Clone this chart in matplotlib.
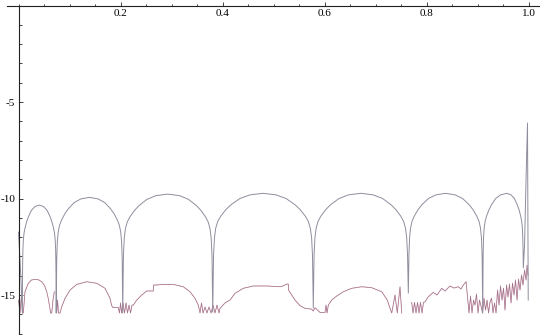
import matplotlib
matplotlib.use('Agg')
import matplotlib.pyplot as plt
from matplotlib.ticker import MultipleLocator

# smooth error curve (log10)
gray_x = [0.0, 0.0049, 0.0075,
          0.0080, 0.0086, 0.0095, 0.0108, 0.0128, 0.0161, 0.0195, 0.0254, 0.0321, 0.0407,
          0.0493, 0.0560, 0.0620, 0.0653, 0.0686, 0.0706, 0.0719, 0.0728, 0.0734, 0.0739,
          0.0749, 0.0761, 0.0778, 0.0804, 0.0843, 0.0909, 0.0974, 0.1091, 0.1222, 0.1391,
          0.1561, 0.1691, 0.1808, 0.1874, 0.1939, 0.1978, 0.2004, 0.2021, 0.2033, 0.2043,
          0.2057, 0.2073, 0.2096, 0.2131, 0.2184, 0.2273, 0.2361, 0.2520, 0.2696, 0.2926,
          0.3155, 0.3331, 0.3490, 0.3579, 0.3667, 0.3720, 0.3755, 0.3778, 0.3794, 0.3808,
          0.3824, 0.3842, 0.3867, 0.3907, 0.3966, 0.4064, 0.4163, 0.4340, 0.4538, 0.4794,
          0.5050, 0.5248, 0.5425, 0.5524, 0.5622, 0.5681, 0.5721, 0.5747, 0.5764, 0.5780,
          0.5795, 0.5812, 0.5836, 0.5873, 0.5929, 0.6022, 0.6115, 0.6283, 0.6469, 0.6712,
          0.6954, 0.7140, 0.7308, 0.7401, 0.7494, 0.7550, 0.7587, 0.7611, 0.7628, 0.7643,
          0.7655, 0.7668, 0.7687, 0.7716, 0.7760, 0.7833, 0.7906, 0.8037, 0.8183, 0.8373,
          0.8562, 0.8708, 0.8839, 0.8912, 0.8985, 0.9029, 0.9058, 0.9077, 0.9090, 0.9102,
          0.9110, 0.9118, 0.9130, 0.9149, 0.9177, 0.9225, 0.9272, 0.9356, 0.9451, 0.9573,
          0.9658, 0.9723, 0.9781, 0.9814, 0.9846, 0.9866, 0.9879, 0.9887, 0.9893, 0.9898,
          0.9922, 0.9951, 0.9980, 0.9994]
gray_y = [-11.74, -14.22, -15.93,
          -13.54, -12.64, -12.14, -11.79, -11.52, -11.19, -10.94, -10.61, -10.42, -10.34,
          -10.42, -10.61, -10.94, -11.19, -11.52, -11.79, -12.14, -12.64, -13.54, -15.93,
          -13.14, -12.24, -11.74, -11.39, -11.12, -10.79, -10.54, -10.21, -10.02, -9.94,
          -10.02, -10.21, -10.54, -10.79, -11.12, -11.39, -11.74, -12.24, -13.14, -15.93,
          -12.97, -12.07, -11.57, -11.22, -10.95, -10.62, -10.37, -10.04, -9.85, -9.77,
          -9.85, -10.04, -10.37, -10.62, -10.95, -11.22, -11.57, -12.07, -12.97, -15.88,
          -12.93, -12.03, -11.53, -11.18, -10.91, -10.58, -10.33, -10.00, -9.81, -9.73,
          -9.81, -10.00, -10.33, -10.58, -10.91, -11.18, -11.53, -12.03, -12.93, -15.67,
          -12.93, -12.03, -11.53, -11.18, -10.91, -10.58, -10.33, -10.00, -9.81, -9.73,
          -9.81, -10.00, -10.33, -10.58, -10.91, -11.18, -11.53, -12.03, -12.93, -14.90,
          -12.93, -12.03, -11.53, -11.18, -10.91, -10.58, -10.33, -10.00, -9.81, -9.73,
          -9.81, -10.00, -10.33, -10.58, -10.91, -11.18, -11.53, -12.03, -12.93, -15.93,
          -12.93, -12.03, -11.53, -11.18, -10.91, -10.58, -10.33, -10.00, -9.81, -9.73,
          -9.81, -10.00, -10.33, -10.58, -10.91, -11.18, -11.53, -12.03, -12.60, -13.60,
          -12.41, -9.04, -6.09, -15.26]

# rounding-level error curve, None marks a gap
red_x = [0.0, 0.0029, 0.0059, 0.0078, 0.0094, 0.0127, 0.0192, 0.0255, 0.0324, 0.0392,
         0.0455, 0.051, 0.0553, 0.0582, 0.0604, 0.0631, 0.0651, 0.0676, 0.0702, None,
         0.0749, 0.0765, 0.0784, 0.0814, 0.0847, 0.0912, 0.101, 0.1141, 0.1337, 0.1533,
         0.1696, 0.1794, 0.1827, 0.1853, 0.1957, 0.198, 0.2, 0.202, 0.2049, 0.2078,
         0.2108, 0.2137, 0.2167, 0.2196, 0.2225, 0.2251, 0.2318, 0.2416, 0.2514, 0.2643,
         0.2647, 0.271, 0.2839, 0.3035, 0.3231, 0.3363, 0.3461, 0.3525, 0.3559, 0.3588,
         0.3618, 0.3657, 0.3696, 0.3735, 0.3775, 0.3814, 0.3853, 0.3892, 0.3931, 0.3951,
         0.4049, 0.4147, 0.4245, 0.4408, 0.4604, 0.4867, 0.5127, 0.5206, 0.5259, 0.529,
         0.5294, 0.5357, 0.5422, 0.552, 0.5618, 0.5749, 0.578, 0.5814, 0.5912, 0.601,
         0.6029, 0.6049, 0.6075, 0.6141, 0.6239, 0.6369, 0.6533, 0.6729, 0.6925, 0.7122,
         0.7231, 0.7284, 0.7318, 0.7382, 0.7427, 0.748, 0.7514, None,
         0.771, 0.7735, 0.7765, 0.7794, 0.7824, 0.7853, 0.7882, 0.7912, 0.7941,
         0.7971, 0.8035, 0.8133, 0.8206, 0.8298, 0.8363, 0.8461, 0.8539, 0.8624, 0.8676,
         0.8722, 0.8775, 0.88, 0.8833, 0.8863, 0.8892, 0.8922, 0.8951, 0.898, 0.901,
         0.9039, 0.9069, 0.9098, 0.9127, 0.9157, 0.9186, 0.9216, 0.9245, 0.9275, 0.9304,
         0.9333, 0.9363, 0.9392, 0.9422, 0.9451, 0.948, 0.951, 0.9539, 0.9569, 0.9598,
         0.9627, 0.9657, 0.9686, 0.9716, 0.9745, 0.9775, 0.9804, 0.9833, 0.9863, 0.9892,
         0.9922, 0.9951, 0.9971, 0.999]
red_y = [-15.26, -15.93, -15.00, -15.93, -15.93, -14.83, -14.39, -14.22, -14.19, -14.21,
         -14.31, -14.51, -14.83, -15.16, -15.52, -15.93, -15.93, -15.26, -14.83, None,
         -15.93, -15.26, -15.93, -15.93, -15.61, -15.17, -14.74, -14.45, -14.31, -14.39,
         -14.65, -15.17, -15.55, -15.65, -15.65, -15.93, -15.41, -15.93, -15.41, -15.93,
         -15.41, -15.93, -15.52, -15.93, -15.52, -15.52, -15.26, -15.00, -14.79, -14.79,
         -14.48, -14.48, -14.45, -14.45, -14.57, -14.83, -15.17, -15.52, -15.93, -15.41,
         -15.93, -15.62, -15.93, -15.62, -15.93, -15.52, -15.93, -15.52, -15.93, -15.69,
         -15.41, -15.26, -14.91, -14.65, -14.53, -14.53, -14.57, -14.51, -14.43, -14.43,
         -14.74, -15.00, -15.26, -15.55, -15.69, -15.73, -15.83, -15.66, -15.90, -15.90,
         -15.52, -15.93, -15.52, -15.26, -15.05, -14.83, -14.65, -14.57, -14.62, -14.83,
         -15.26, -15.69, -15.93, -15.00, -15.93, -14.57, -15.93, None,
         -15.38, -15.93, -15.38, -15.93, -15.38, -15.93, -15.38, -15.93, -15.38,
         -15.35, -15.09, -14.86, -15.00, -14.65, -14.79, -14.53, -14.64, -14.57, -14.69,
         -14.48, -14.31, -15.00, -15.93, -15.05, -15.93, -15.26, -15.52, -14.95, -15.93,
         -15.26, -15.57, -15.93, -15.16, -15.78, -15.26, -15.93, -15.36, -15.16, -15.93,
         -15.41, -15.93, -14.74, -15.52, -14.53, -15.26, -14.64, -15.78, -14.48, -15.10,
         -14.43, -15.41, -14.38, -15.00, -14.22, -15.26, -14.17, -14.74, -13.96, -14.48,
         -13.70, -14.22, -13.45, -13.96]

x_ticks = [0.2, 0.4, 0.6, 0.8, 1.0]
x_labels = ['0.2', '0.4', '0.6', '0.8', '1.0']
y_ticks = [-5, -10, -15]
y_labels = ['-5', '-10', '-15']

plt.rcParams['font.family'] = 'Liberation Serif'
plt.rcParams['font.size'] = 8

fig = plt.figure(figsize=(5.4, 3.35), dpi=100)
ax = fig.add_axes([0, 0, 1, 1])

rx = [float('nan') if v is None else v for v in red_x]
ry = [float('nan') if v is None else v for v in red_y]
ax.plot(rx, ry, color='#dc8fb2', lw=0.6)
ax.plot(rx, ry, color='#5e5e5e', lw=0.4, alpha=0.55)
ax.plot(gray_x, gray_y, color='#8e8e9e', lw=0.7)

ax.set_xlim(-0.0363, 1.0225)
ax.set_ylim(-17.07, 0.285)

for side in ['top', 'right']:
    ax.spines[side].set_visible(False)
ax.spines['left'].set_position(('data', 0))
ax.spines['bottom'].set_position(('data', 0))
ax.spines['left'].set_bounds(-17.0, 0)
ax.spines['bottom'].set_bounds(-0.0225, 1.0225)
for side in ['left', 'bottom']:
    ax.spines[side].set_linewidth(0.8)
    ax.spines[side].set_color('#222222')

ax.set_xticks(x_ticks, labels=x_labels)
ax.set_yticks(y_ticks, labels=y_labels)
ax.xaxis.set_minor_locator(MultipleLocator(0.05))
ax.yaxis.set_minor_locator(MultipleLocator(1))

ax.tick_params(which='both', direction='in', color='#222222', width=0.6)
ax.tick_params(axis='x', which='major', length=3.2, pad=2.5)
ax.tick_params(axis='x', which='minor', length=1.8)
ax.tick_params(axis='y', which='major', length=3.2, pad=2.5)
ax.tick_params(axis='y', which='minor', length=1.8)

fig.savefig('out.png', dpi=100)
